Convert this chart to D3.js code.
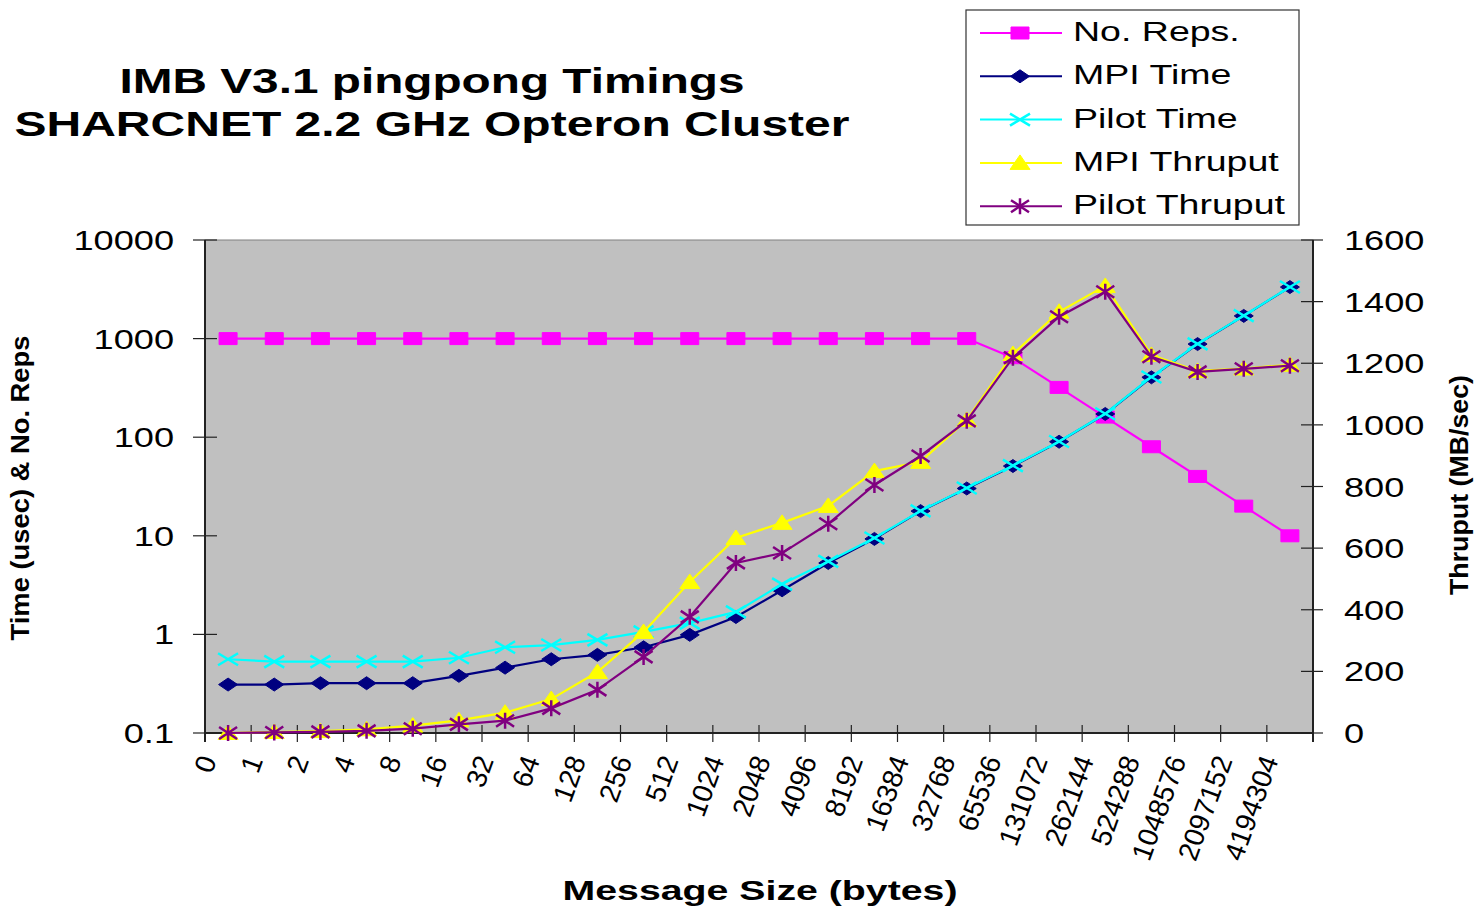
<!DOCTYPE html>
<html>
<head>
<meta charset="utf-8">
<script src="https://cdn.jsdelivr.net/npm/d3@7"></script>
<style>
    body { margin: 0; background: #ffffff; }
    svg { display: block; font-family: 'Liberation Sans', Arial, sans-serif; }
</style>
</head>
<body>
<div id="chart-container"></div>
<script>
// Message sizes (bytes)
const categories = ['0', '1', '2', '4', '8', '16', '32', '64', '128', '256', '512', '1024', '2048',
    '4096', '8192', '16384', '32768', '65536', '131072', '262144', '524288', '1048576', '2097152', '4194304']

// Left (log) axis series
const noReps = [1000, 1000, 1000, 1000, 1000, 1000, 1000, 1000, 1000, 1000, 1000, 1000, 1000,
    1000, 1000, 1000, 1000, 640, 320, 160, 80, 40, 20, 10]
const mpiTime = [0.31, 0.31, 0.32, 0.32, 0.32, 0.38, 0.46, 0.56, 0.62, 0.74, 0.99, 1.5, 2.8,
    5.3, 9.3, 17.8, 30.2, 51, 90, 172, 405, 880, 1700, 3330]
const pilotTime = [0.56, 0.53, 0.53, 0.53, 0.53, 0.58, 0.74, 0.78, 0.88, 1.06, 1.3, 1.69, 3.24,
    5.5, 9.5, 17.9, 30.5, 51.5, 90.5, 173, 408, 885, 1710, 3340]

// Right (linear) axis series, MB/sec
const mpiThruput = [0, 3.1, 6, 12, 24, 41, 66, 110, 198, 328, 490, 633, 682,
    737, 850, 880, 1016, 1230, 1367, 1451, 1227, 1175, 1183, 1195]
const pilotThruput = [0, 1.8, 3.6, 7, 14, 28, 40, 80, 140, 247, 377, 552, 584,
    679, 805, 899, 1013, 1218, 1351, 1432, 1221, 1172, 1182, 1192]

// Tick labels
const leftTicks = [0.1, 1, 10, 100, 1000, 10000]
const rightTicks = [0, 200, 400, 600, 800, 1000, 1200, 1400, 1600]

const seriesNames = ['No. Reps.', 'MPI Time', 'Pilot Time', 'MPI Thruput', 'Pilot Thruput']

class PingpongChart {
    constructor(options) {
        this.width = options.width
        this.height = options.height
        this.plot = { left: 205, right: 1313, top: 240, bottom: 733 }
        this.stretch = 1.34   // the original picture is stretched sideways

        this.series = [
            { name: seriesNames[0], values: noReps, color: '#ff00ff', marker: 'square', axis: 'left' },
            { name: seriesNames[1], values: mpiTime, color: '#000080', marker: 'diamond', axis: 'left' },
            { name: seriesNames[2], values: pilotTime, color: '#00ffff', marker: 'cross', axis: 'left' },
            { name: seriesNames[3], values: mpiThruput, color: '#ffff00', marker: 'triangle', axis: 'right' },
            { name: seriesNames[4], values: pilotThruput, color: '#800080', marker: 'star', axis: 'right' }
        ]

        this.xScale = d3.scalePoint()
            .domain(categories)
            .range([this.plot.left, this.plot.right])
            .padding(0.5)
        this.yLeft = d3.scaleLog()
            .domain([0.1, 10000])
            .range([this.plot.bottom, this.plot.top])
        this.yRight = d3.scaleLinear()
            .domain([0, 1600])
            .range([this.plot.bottom, this.plot.top])

        this.svg = d3.select('#chart-container')
            .append('svg')
            .attr('width', this.width)
            .attr('height', this.height)
    }

    draw() {
        this.#drawPlotArea()
        this.#drawAxes()
        this.#drawSeries()
        this.#drawTitles()
        this.#drawLegend()
    }

    // text squeezed into a group so it can be widened like the source
    #wideText(parent, x, y, str, size, anchor, bold) {
        return parent.append('g')
            .attr('transform', `translate(${x},${y}) scale(${this.stretch},1)`)
            .append('text')
            .attr('text-anchor', anchor)
            .attr('font-size', size)
            .attr('font-weight', bold ? 'bold' : 'normal')
            .attr('fill', '#000')
            .text(str)
    }

    #markerPath(type) {
        switch (type) {
            case 'square': return 'M-9,-6H9V6H-9Z'
            case 'diamond': return 'M-9.5,0L0,-6.5L9.5,0L0,6.5Z'
            case 'triangle': return 'M0,-8L10,6.5H-10Z'
            case 'cross': return 'M-10,-6L10,6M-10,6L10,-6'
            case 'star': return 'M-9,-6L9,6M-9,6L9,-6M0,-8V8'
        }
    }

    #addMarker(parent, type, color, x, y) {
        const stroked = type === 'cross' || type === 'star'
        parent.append('path')
            .attr('d', this.#markerPath(type))
            .attr('transform', `translate(${x},${y})`)
            .attr('fill', stroked ? 'none' : color)
            .attr('stroke', color)
            .attr('stroke-width', stroked ? 2.5 : 1)
    }

    #drawPlotArea() {
        const p = this.plot
        this.svg.append('rect')
            .attr('x', p.left)
            .attr('y', p.top)
            .attr('width', p.right - p.left)
            .attr('height', p.bottom - p.top)
            .attr('fill', '#c0c0c0')
            .attr('stroke', '#808080')
            .attr('stroke-width', 1)
    }

    #drawAxes() {
        const p = this.plot
        const axes = this.svg.append('g').attr('stroke', '#222')

        // axis lines
        axes.append('line').attr('x1', p.left).attr('x2', p.left).attr('y1', p.top).attr('y2', p.bottom + 9).attr('stroke-width', 2)
        axes.append('line').attr('x1', p.right).attr('x2', p.right).attr('y1', p.top).attr('y2', p.bottom + 9).attr('stroke-width', 2)
        axes.append('line').attr('x1', p.left).attr('x2', p.right).attr('y1', p.bottom).attr('y2', p.bottom).attr('stroke-width', 2)

        // left log ticks
        leftTicks.forEach(t => {
            const y = this.yLeft(t)
            axes.append('line').attr('x1', p.left - 12).attr('x2', p.left + 12).attr('y1', y).attr('y2', y).attr('stroke-width', 1.2)
            this.#wideText(this.svg, 174, y + 10, String(t), 27, 'end', false)
        })

        // right linear ticks
        rightTicks.forEach(t => {
            const y = this.yRight(t)
            axes.append('line').attr('x1', p.right - 12).attr('x2', p.right + 10).attr('y1', y).attr('y2', y).attr('stroke-width', 1.2)
            this.#wideText(this.svg, 1344, y + 10, String(t), 27, 'start', false)
        })

        // category ticks sit on band boundaries
        const step = this.xScale.step()
        d3.range(categories.length).forEach(i => {
            const x = p.left + i * step
            axes.append('line').attr('x1', x).attr('x2', x).attr('y1', p.bottom - 8).attr('y2', p.bottom + 9).attr('stroke-width', 1.2)
        })

        // rotated category labels
        categories.forEach(c => {
            this.svg.append('text')
                .attr('transform', `translate(${this.xScale(c) - 11},${p.bottom + 27}) rotate(-70)`)
                .attr('text-anchor', 'end')
                .attr('font-size', 28)
                .attr('fill', '#000')
                .text(c)
        })
    }

    #drawSeries() {
        this.series.forEach(s => {
            const yScale = s.axis === 'left' ? this.yLeft : this.yRight
            const line = d3.line()
                .x((d, i) => this.xScale(categories[i]))
                .y(d => yScale(d))
            const g = this.svg.append('g').attr('class', 'series')
            g.append('path')
                .attr('d', line(s.values))
                .attr('fill', 'none')
                .attr('stroke', s.color)
                .attr('stroke-width', 2.2)
            s.values.forEach((v, i) => {
                this.#addMarker(g, s.marker, s.color, this.xScale(categories[i]), yScale(v))
            })
        })
    }

    #drawTitles() {
        this.svg.append('text')
            .attr('x', 432).attr('y', 93)
            .attr('text-anchor', 'middle')
            .attr('font-size', 35).attr('font-weight', 'bold')
            .attr('textLength', 625).attr('lengthAdjust', 'spacingAndGlyphs')
            .text('IMB V3.1 pingpong Timings')
        this.svg.append('text')
            .attr('x', 432).attr('y', 136)
            .attr('text-anchor', 'middle')
            .attr('font-size', 35).attr('font-weight', 'bold')
            .attr('textLength', 835).attr('lengthAdjust', 'spacingAndGlyphs')
            .text('SHARCNET 2.2 GHz Opteron Cluster')

        this.svg.append('text')
            .attr('x', 760).attr('y', 900)
            .attr('text-anchor', 'middle')
            .attr('font-size', 28).attr('font-weight', 'bold')
            .attr('textLength', 395).attr('lengthAdjust', 'spacingAndGlyphs')
            .text('Message Size (bytes)')

        this.svg.append('text')
            .attr('transform', 'translate(29,488) rotate(-90)')
            .attr('text-anchor', 'middle')
            .attr('font-size', 26).attr('font-weight', 'bold')
            .attr('textLength', 305).attr('lengthAdjust', 'spacingAndGlyphs')
            .text('Time (usec) & No. Reps')
        this.svg.append('text')
            .attr('transform', 'translate(1468,485) rotate(-90)')
            .attr('text-anchor', 'middle')
            .attr('font-size', 26).attr('font-weight', 'bold')
            .attr('textLength', 220).attr('lengthAdjust', 'spacingAndGlyphs')
            .text('Thruput (MB/sec)')
    }

    #drawLegend() {
        const legend = this.svg.append('g').attr('id', 'legend')
        legend.append('rect')
            .attr('x', 966).attr('y', 10)
            .attr('width', 333).attr('height', 215)
            .attr('fill', '#fff')
            .attr('stroke', '#333')
            .attr('stroke-width', 1.2)

        this.series.forEach((s, i) => {
            const y = 31 + i * 43.3
            legend.append('line')
                .attr('x1', 980).attr('x2', 1062)
                .attr('y1', y + 2).attr('y2', y + 2)
                .attr('stroke', s.color)
                .attr('stroke-width', 2)
            this.#addMarker(legend, s.marker, s.color, 1020, y + 2)
            this.#wideText(legend, 1073, y + 10, s.name, 28, 'start', false)
        })
    }
}

const chart = new PingpongChart({ width: 1475, height: 906 })
chart.draw()
</script>
</body>
</html>
